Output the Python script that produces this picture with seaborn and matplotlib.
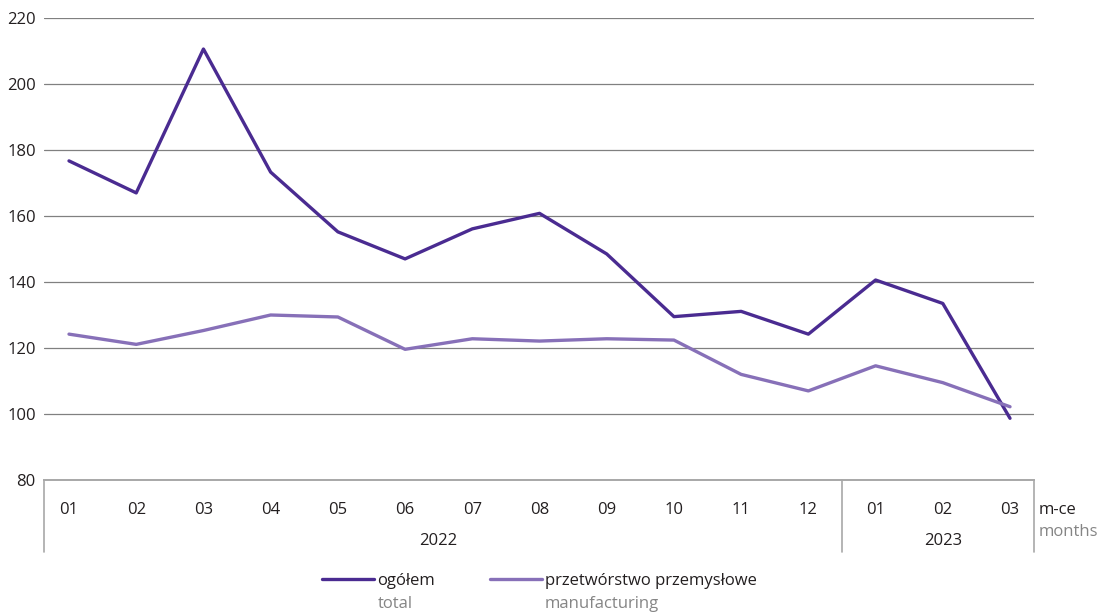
import matplotlib
matplotlib.use("Agg")
import pandas as pd
import seaborn as sns
from matplotlib import pyplot as plt
from matplotlib.lines import Line2D

# data
months = ["01", "02", "03", "04", "05", "06", "07", "08", "09", "10", "11", "12",
          "01", "02", "03"]
years = ["2022", "2023"]
year_lengths = [12, 3]
total = [176.7, 167.0, 210.6, 173.3, 155.2, 147.0, 156.1, 160.8, 148.5, 129.5,
         131.1, 124.2, 140.6, 133.5, 98.7]
manufacturing = [124.2, 121.1, 125.3, 130.0, 129.4, 119.6, 122.8, 122.1, 122.8, 122.4,
                 112.0, 107.0, 114.6, 109.5, 102.2]
series_pl = ["ogółem", "przetwórstwo przemysłowe"]
series_en = ["total", "manufacturing"]
colors = ["#4a2b91", "#8770b8"]

sns.set_style("white")
plt.rcParams["font.family"] = ["Open Sans", "DejaVu Sans"]
text_col = "#231f20"
grey_text = "#858585"
fs = 12

df = pd.DataFrame({
    "pos": list(range(len(months))) * 2,
    "value": total + manufacturing,
    "series": [series_pl[0]] * len(total) + [series_pl[1]] * len(manufacturing),
})

fig = plt.figure(figsize=(11.04, 6.15), dpi=100)
ax = fig.add_axes([44 / 1104, 1 - 480 / 615, 990 / 1104, 462 / 615])

sns.lineplot(data=df, x="pos", y="value", hue="series", palette=colors,
             linewidth=2.4, ax=ax, legend=False)

ax.set_xlim(-0.372, 14.357)
ax.set_ylim(80, 220)
ax.set_yticks(range(80, 221, 20))
ax.yaxis.grid(True, color="#808080", linewidth=0.9)
ax.set_axisbelow(True)
ax.tick_params(axis="y", length=0, pad=6, labelsize=fs, labelcolor=text_col)
ax.set_xticks([])
ax.set_xlabel("")
ax.set_ylabel("")
for s in ["left", "right", "top"]:
    ax.spines[s].set_visible(False)
ax.spines["bottom"].set_color("#a8a8a8")
ax.spines["bottom"].set_linewidth(1.4)

# category "table" below the axis
xt = ax.get_xaxis_transform()
depth = -72 / 462
for i, m in enumerate(months):
    ax.text(i, -30 / 462, m, transform=xt, ha="center", va="center",
            fontsize=fs, color=text_col)
start = 0
edges = [-0.372]
for y, n in zip(years, year_lengths):
    mid = start + (n - 1) / 2
    ax.text(mid, -61 / 462, y, transform=xt, ha="center", va="center",
            fontsize=fs, color=text_col)
    start += n
    edges.append(start - 0.5 if start < len(months) else 14.357)
for e in edges:
    ax.plot([e, e], [0, depth], transform=xt, color="#a8a8a8", linewidth=1.2,
            clip_on=False)

ax.text(1.005, -30 / 462, "m-ce", transform=ax.transAxes, ha="left", va="center",
        fontsize=fs, color=text_col)
ax.text(1.005, -52 / 462, "months", transform=ax.transAxes, ha="left", va="center",
        fontsize=fs, color=grey_text)

# legend, with the english labels set under the polish ones
handles = [Line2D([], [], color=c, linewidth=2.4) for c in colors]
leg = fig.legend(handles, series_pl, loc="center left",
                 bbox_to_anchor=(314 / 1104, 1 - 581 / 615),
                 ncol=2, frameon=False, handlelength=3.1, handletextpad=0.2,
                 columnspacing=3.3, fontsize=fs, labelcolor=text_col, borderpad=0)
fig.canvas.draw()
renderer = fig.canvas.get_renderer()
for t, en in zip(leg.get_texts(), series_en):
    bb = t.get_window_extent(renderer)
    fig.text(bb.x0 / fig.bbox.width, 1 - 604 / 615, en, ha="left", va="center",
             fontsize=fs, color=grey_text)

fig.savefig("out.png", dpi=100)
